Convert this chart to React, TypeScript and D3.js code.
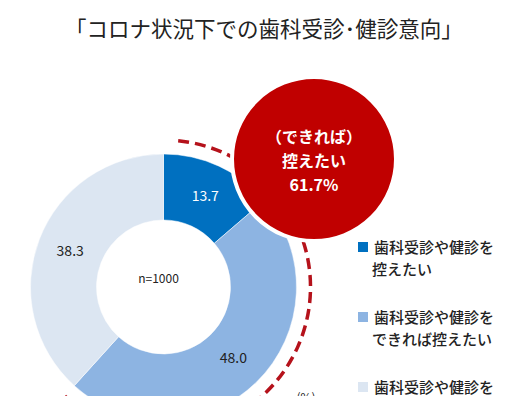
import { useEffect, useRef } from "react";
import * as d3 from "d3";

const categories = [
  ["歯科受診や健診を", "控えたい"],
  ["歯科受診や健診を", "できれば控えたい"],
  ["歯科受診や健診を", "控えたくない"],
];
const values = [13.7, 48.0, 38.3];
const colors = ["#0070c0", "#8db4e2", "#dce6f2"];
const labelColors = ["#ffffff", "#222222", "#222222"];
const title = "「コロナ状況下での歯科受診･健診意向」";
const highlightLines = ["（できれば）", "控えたい", "61.7%"];
const sampleLabel = "n=1000";

const W = 528;
const H = 396;
const FONT = "'Noto Sans CJK JP', 'Noto Sans', sans-serif";

export default function App() {
  const ref = useRef<SVGSVGElement>(null);

  useEffect(() => {
    if (!ref.current) return;
    const svg = d3.select(ref.current);
    svg.selectAll("*").remove();

    svg.append("rect").attr("width", W).attr("height", H).attr("fill", "#fff");

    svg
      .append("text")
      .attr("x", W / 2)
      .attr("y", 37)
      .attr("text-anchor", "middle")
      .style("font-family", FONT)
      .style("font-size", "21.5px")
      .attr("fill", "#222")
      .text(title);

    const cx = 163.5;
    const cy = 287;
    const outer = 133;
    const inner = 67;

    const g = svg.append("g").attr("transform", `translate(${cx},${cy})`);

    const pie = d3.pie<number>().value((d) => d).sort(null);
    const arcs = pie(values);
    const arc = d3.arc<d3.PieArcDatum<number>>().innerRadius(inner).outerRadius(outer);

    g.selectAll("path.slice")
      .data(arcs)
      .enter()
      .append("path")
      .attr("class", "slice")
      .attr("d", arc)
      .attr("fill", (_d, i) => colors[i])
      .attr("stroke", "#fff")
      .attr("stroke-width", 0.5);

    const labelArc = d3.arc<d3.PieArcDatum<number>>().innerRadius(100).outerRadius(100);
    g.selectAll("text.val")
      .data(arcs)
      .enter()
      .append("text")
      .attr("class", "val")
      .attr("transform", (d) => {
        const [x, y] = labelArc.centroid(d);
        return `translate(${x},${y})`;
      })
      .attr("text-anchor", "middle")
      .attr("dy", "0.35em")
      .style("font-family", FONT)
      .style("font-size", "14px")
      .attr("fill", (_d, i) => labelColors[i])
      .text((d) => d.data.toFixed(1));

    g.append("text")
      .attr("x", -5)
      .attr("y", -8)
      .attr("text-anchor", "middle")
      .attr("dy", "0.35em")
      .style("font-family", FONT)
      .style("font-size", "12px")
      .attr("fill", "#222")
      .text(sampleLabel);

    // dashed arc spanning the "控えたい" slices
    const total = d3.sum(values);
    const endAngle = ((values[0] + values[1]) / total) * Math.PI * 2;
    const p = d3.path();
    p.arc(0, 0, 147, 0.1 - Math.PI / 2, endAngle - Math.PI / 2);
    g.append("path")
      .attr("d", p.toString())
      .attr("fill", "none")
      .attr("stroke", "#b5121b")
      .attr("stroke-width", 3.5)
      .attr("stroke-dasharray", "11,6");

    // highlight circle
    const hx = 314;
    const hy = 159;
    svg
      .append("circle")
      .attr("cx", hx)
      .attr("cy", hy)
      .attr("r", 82)
      .attr("fill", "#c00000")
      .attr("stroke", "#fff")
      .attr("stroke-width", 4);

    svg
      .selectAll("text.hl")
      .data(highlightLines)
      .enter()
      .append("text")
      .attr("class", "hl")
      .attr("x", hx)
      .attr("y", (_d, i) => 143 + i * 24)
      .attr("text-anchor", "middle")
      .style("font-family", FONT)
      .style("font-size", "16px")
      .style("font-weight", "bold")
      .attr("fill", "#fff")
      .text((d) => d);

    // legend
    const legend = svg
      .selectAll("g.legend")
      .data(categories)
      .enter()
      .append("g")
      .attr("class", "legend")
      .attr("transform", (_d, i) => `translate(358,${242 + i * 70})`);

    legend
      .append("rect")
      .attr("width", 10)
      .attr("height", 10)
      .attr("fill", (_d, i) => colors[i]);

    legend
      .selectAll("text")
      .data((d) => d)
      .enter()
      .append("text")
      .attr("x", (_d, j) => (j === 0 ? 16 : 14))
      .attr("y", (_d, j) => 11 + j * 22)
      .style("font-family", FONT)
      .style("font-size", "15px")
      .style("font-weight", 500)
      .attr("fill", "#222")
      .text((d) => d);

    svg
      .append("text")
      .attr("x", 306)
      .attr("y", 402)
      .attr("text-anchor", "middle")
      .style("font-family", FONT)
      .style("font-size", "12px")
      .attr("fill", "#222")
      .text("(%)");
  }, []);

  return (
    <div style={{ position: "absolute", left: 0, top: 0 }}>
      <svg ref={ref} width={W} height={H} style={{ display: "block" }} />
    </div>
  );
}
